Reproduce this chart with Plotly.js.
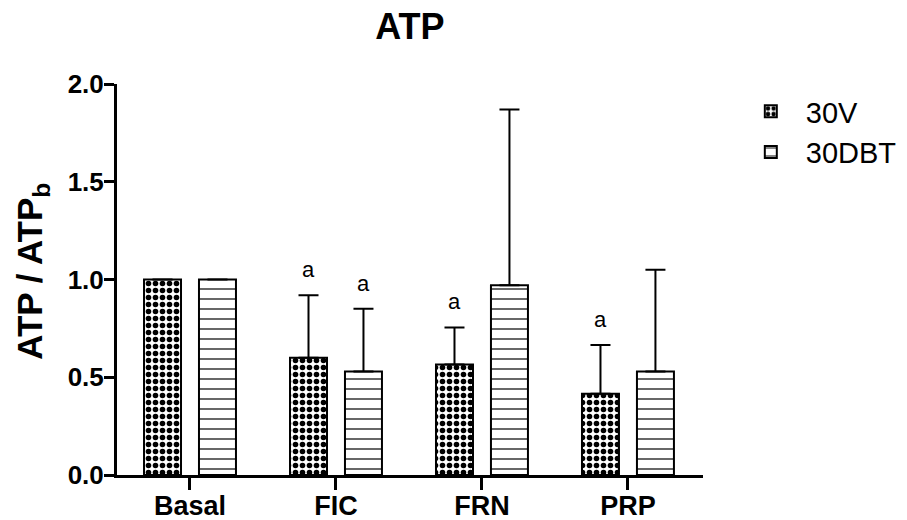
<!DOCTYPE html>
<html>
<head>
<meta charset="utf-8">
<script src="https://cdn.plot.ly/plotly-3.0.1.min.js"></script>
<style>
  html, body { margin: 0; padding: 0; background: #fff; }
  #chart { width: 907px; height: 520px; }
</style>
</head>
<body>
<div id="chart"></div>
<script>
// Groups on the x axis
const categories = ['Basal', 'FIC', 'FRN', 'PRP'];

// 30V series: mean ratio and upper error
const v30 = [1.0, 0.60, 0.565, 0.415];
const err30 = [null, 0.32, 0.19, 0.25];
const sig30 = ['', 'a', 'a', 'a'];

// 30DBT series: mean ratio and upper error
const vDbt = [1.0, 0.53, 0.97, 0.53];
const errDbt = [null, 0.32, 0.90, 0.52];
const sigDbt = ['', 'a', '', ''];

// Y axis ticks
const yTicks = [0, 0.5, 1.0, 1.5, 2.0];
const yTickText = ['0.0', '0.5', '1.0', '1.5', '2.0'];

const FONT = 'Liberation Sans, Arial, Helvetica, sans-serif';

function errBars(arr) {
  return {
    type: 'data',
    symmetric: false,
    array: arr,
    arrayminus: arr.map(v => (v == null ? null : 0)),
    color: '#000',
    thickness: 2,
    width: 10
  };
}

const traces = [
  {
    type: 'bar',
    name: '30V',
    x: categories,
    y: v30,
    error_y: errBars(err30),
    legendgroup: 'g1',
    marker: {
      color: '#fff',
      line: { color: '#000', width: 2 },
      pattern: { shape: '.', size: 7, solidity: 0.5, fgcolor: '#000', bgcolor: '#fff', fgopacity: 1 }
    },
    hoverinfo: 'x+y'
  },
  {
    type: 'bar',
    name: '30DBT',
    x: categories,
    y: vDbt,
    error_y: errBars(errDbt),
    legendgroup: 'g2',
    marker: {
      color: '#fff',
      line: { color: '#000', width: 2 },
      pattern: { shape: '-', size: 10, solidity: 0.12, fgcolor: '#000', bgcolor: '#fff', fgopacity: 1 }
    },
    hoverinfo: 'x+y'
  }
];

// Significance letters above the error bars
const annotations = [];
function addSig(sig, vals, errs, shift) {
  sig.forEach((s, i) => {
    if (!s) return;
    annotations.push({
      x: categories[i], y: vals[i] + (errs[i] || 0),
      xref: 'x', yref: 'y',
      xshift: shift, yshift: 11,
      yanchor: 'bottom',
      text: s, showarrow: false,
      font: { family: FONT, size: 22, color: '#000' }
    });
  });
}
addSig(sig30, v30, err30, -27.5);
addSig(sigDbt, vDbt, errDbt, 27.5);

// Y axis label with subscript
annotations.push({
  xref: 'paper', yref: 'paper',
  x: -0.145, y: 0.52,
  xanchor: 'center', yanchor: 'middle',
  textangle: -90,
  text: 'ATP / ATP<sub>b</sub>',
  showarrow: false,
  font: { family: FONT, size: 35, weight: 700, color: '#000' }
});

const layout = {
  width: 907,
  height: 520,
  margin: { l: 117, r: 204, t: 84, b: 45, autoexpand: false },
  paper_bgcolor: '#fff',
  plot_bgcolor: '#fff',
  barmode: 'group',
  bargap: 0.247,
  bargroupgap: 0.327,
  showlegend: true,
  title: {
    text: 'ATP',
    x: 0.452, xanchor: 'center',
    y: 0.95, yanchor: 'middle',
    font: { family: FONT, size: 36, weight: 700, color: '#000' }
  },
  xaxis: {
    type: 'category',
    range: [-0.5, 3.514],
    showline: true, linecolor: '#000', linewidth: 3,
    ticks: 'outside', ticklen: 12, tickwidth: 3, tickcolor: '#000',
    ticklabelstandoff: -7,
    automargin: false,
    showgrid: false, zeroline: false,
    tickfont: { family: FONT, size: 27, weight: 700, color: '#000' }
  },
  yaxis: {
    range: [0, 2],
    tickvals: yTicks, ticktext: yTickText,
    showline: true, linecolor: '#000', linewidth: 3,
    ticks: 'outside', ticklen: 10, tickwidth: 3, tickcolor: '#000',
    ticklabelstandoff: -5,
    automargin: false,
    showgrid: false, zeroline: false,
    tickfont: { family: FONT, size: 26, weight: 700, color: '#000' }
  },
  legend: {
    x: 1.056, xanchor: 'left',
    y: 0.995, yanchor: 'top',
    traceorder: 'normal',
    tracegroupgap: 6,
    itemwidth: 60,
    bgcolor: 'rgba(0,0,0,0)',
    font: { family: FONT, size: 29, color: '#000' }
  },
  annotations: annotations
};

Plotly.newPlot('chart', traces, layout, { displayModeBar: false, staticPlot: true });
</script>
</body>
</html>
